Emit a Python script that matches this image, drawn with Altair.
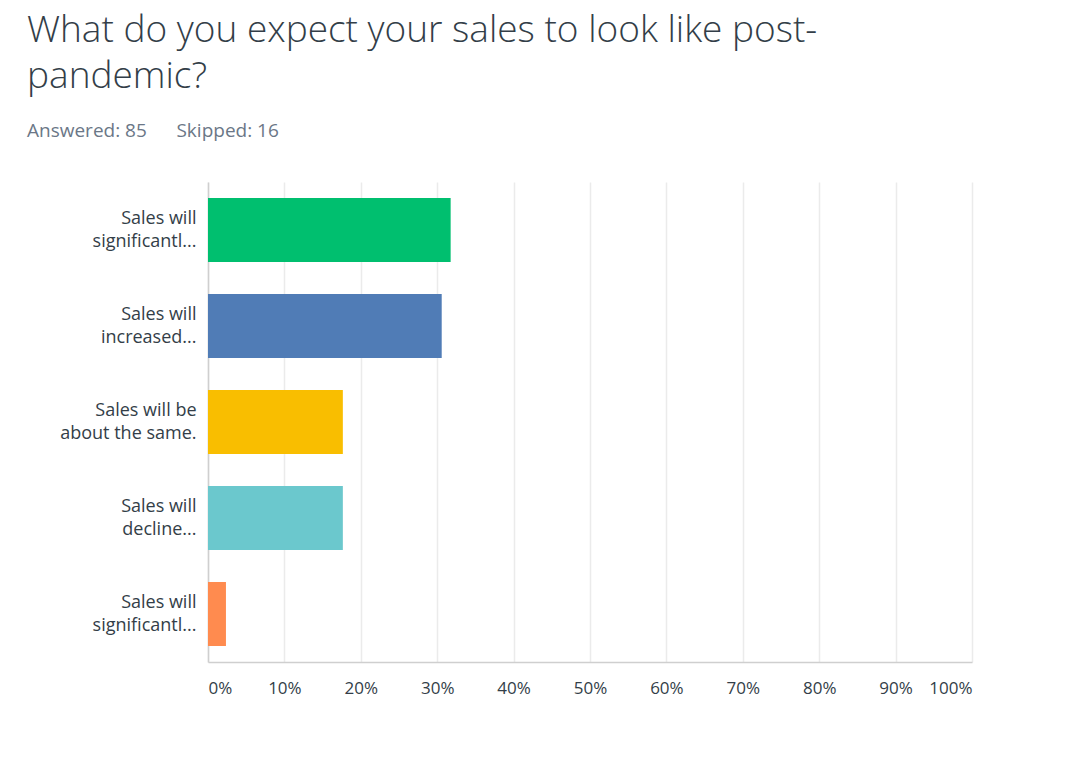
import altair as alt
import pandas as pd

# Data
label_lines = [
    ["Sales will", "significantl..."],
    ["Sales will", "increased..."],
    ["Sales will be", "about the same."],
    ["Sales will", "decline..."],
    ["Sales will", "significantl..."],
]
percent = [31.76, 30.59, 17.65, 17.65, 2.35]
colors = ["#00bf6f", "#507cb6", "#f9be00", "#6bc8cd", "#ff8b4f"]
x_ticks = [0, 10, 20, 30, 40, 50, 60, 70, 80, 90, 100]

df = pd.DataFrame({
    "idx": list(range(len(percent))),
    "pct": percent,
    "color": colors,
})

label_js = "[" + ",".join("[" + ",".join(f"'{s}'" for s in l) + "]" for l in label_lines) + "]"

text_color = "#333e48"
font = "Open Sans"

chart = alt.Chart(df).mark_bar().encode(
    y=alt.Y("idx:O",
            scale=alt.Scale(paddingInner=0.3333, paddingOuter=0.1667),
            axis=alt.Axis(title=None, labelExpr=f"{label_js}[datum.value]",
                          labelFontSize=18, labelColor=text_color, labelFont=font,
                          labelLineHeight=23, labelPadding=12, ticks=False,
                          labelOffset=-11,
                          domain=True, domainColor="#cfcfcf", domainWidth=1.5,
                          labelLimit=200)),
    x=alt.X("pct:Q",
            scale=alt.Scale(domain=[0, 100], nice=False),
            axis=alt.Axis(title=None, values=x_ticks, labelExpr="datum.value + '%'",
                          labelFontSize=17, labelColor=text_color, labelFont=font,
                          labelPadding=18, ticks=False, labelFlush=True,
                          grid=True, gridColor="#ebebeb", gridWidth=1.5,
                          domain=True, domainColor="#cfcfcf", domainWidth=1.5)),
    color=alt.Color("color:N", scale=None, legend=None),
).properties(
    width=764,
    height=480,
    background="white",
    autosize=alt.AutoSizeParams(type="none"),
    padding={"left": 208, "top": 182, "right": 102, "bottom": 118},
    title=alt.TitleParams(
        text=["What do you expect your sales to look like post-", "pandemic?"],
        subtitle="Answered: 85\u00a0\u00a0\u00a0\u00a0\u00a0\u00a0Skipped: 16",
        anchor="start", frame="group", dx=-181,
        fontSize=37, font=font, fontWeight=300, color=text_color, lineHeight=46,
        subtitleFontSize=19, subtitleFont=font, subtitleColor="#6b7787",
        subtitlePadding=26, offset=40,
    ),
).configure_view(stroke=None)

chart.save("out.html", embed_options={"renderer": "svg", "actions": False})
